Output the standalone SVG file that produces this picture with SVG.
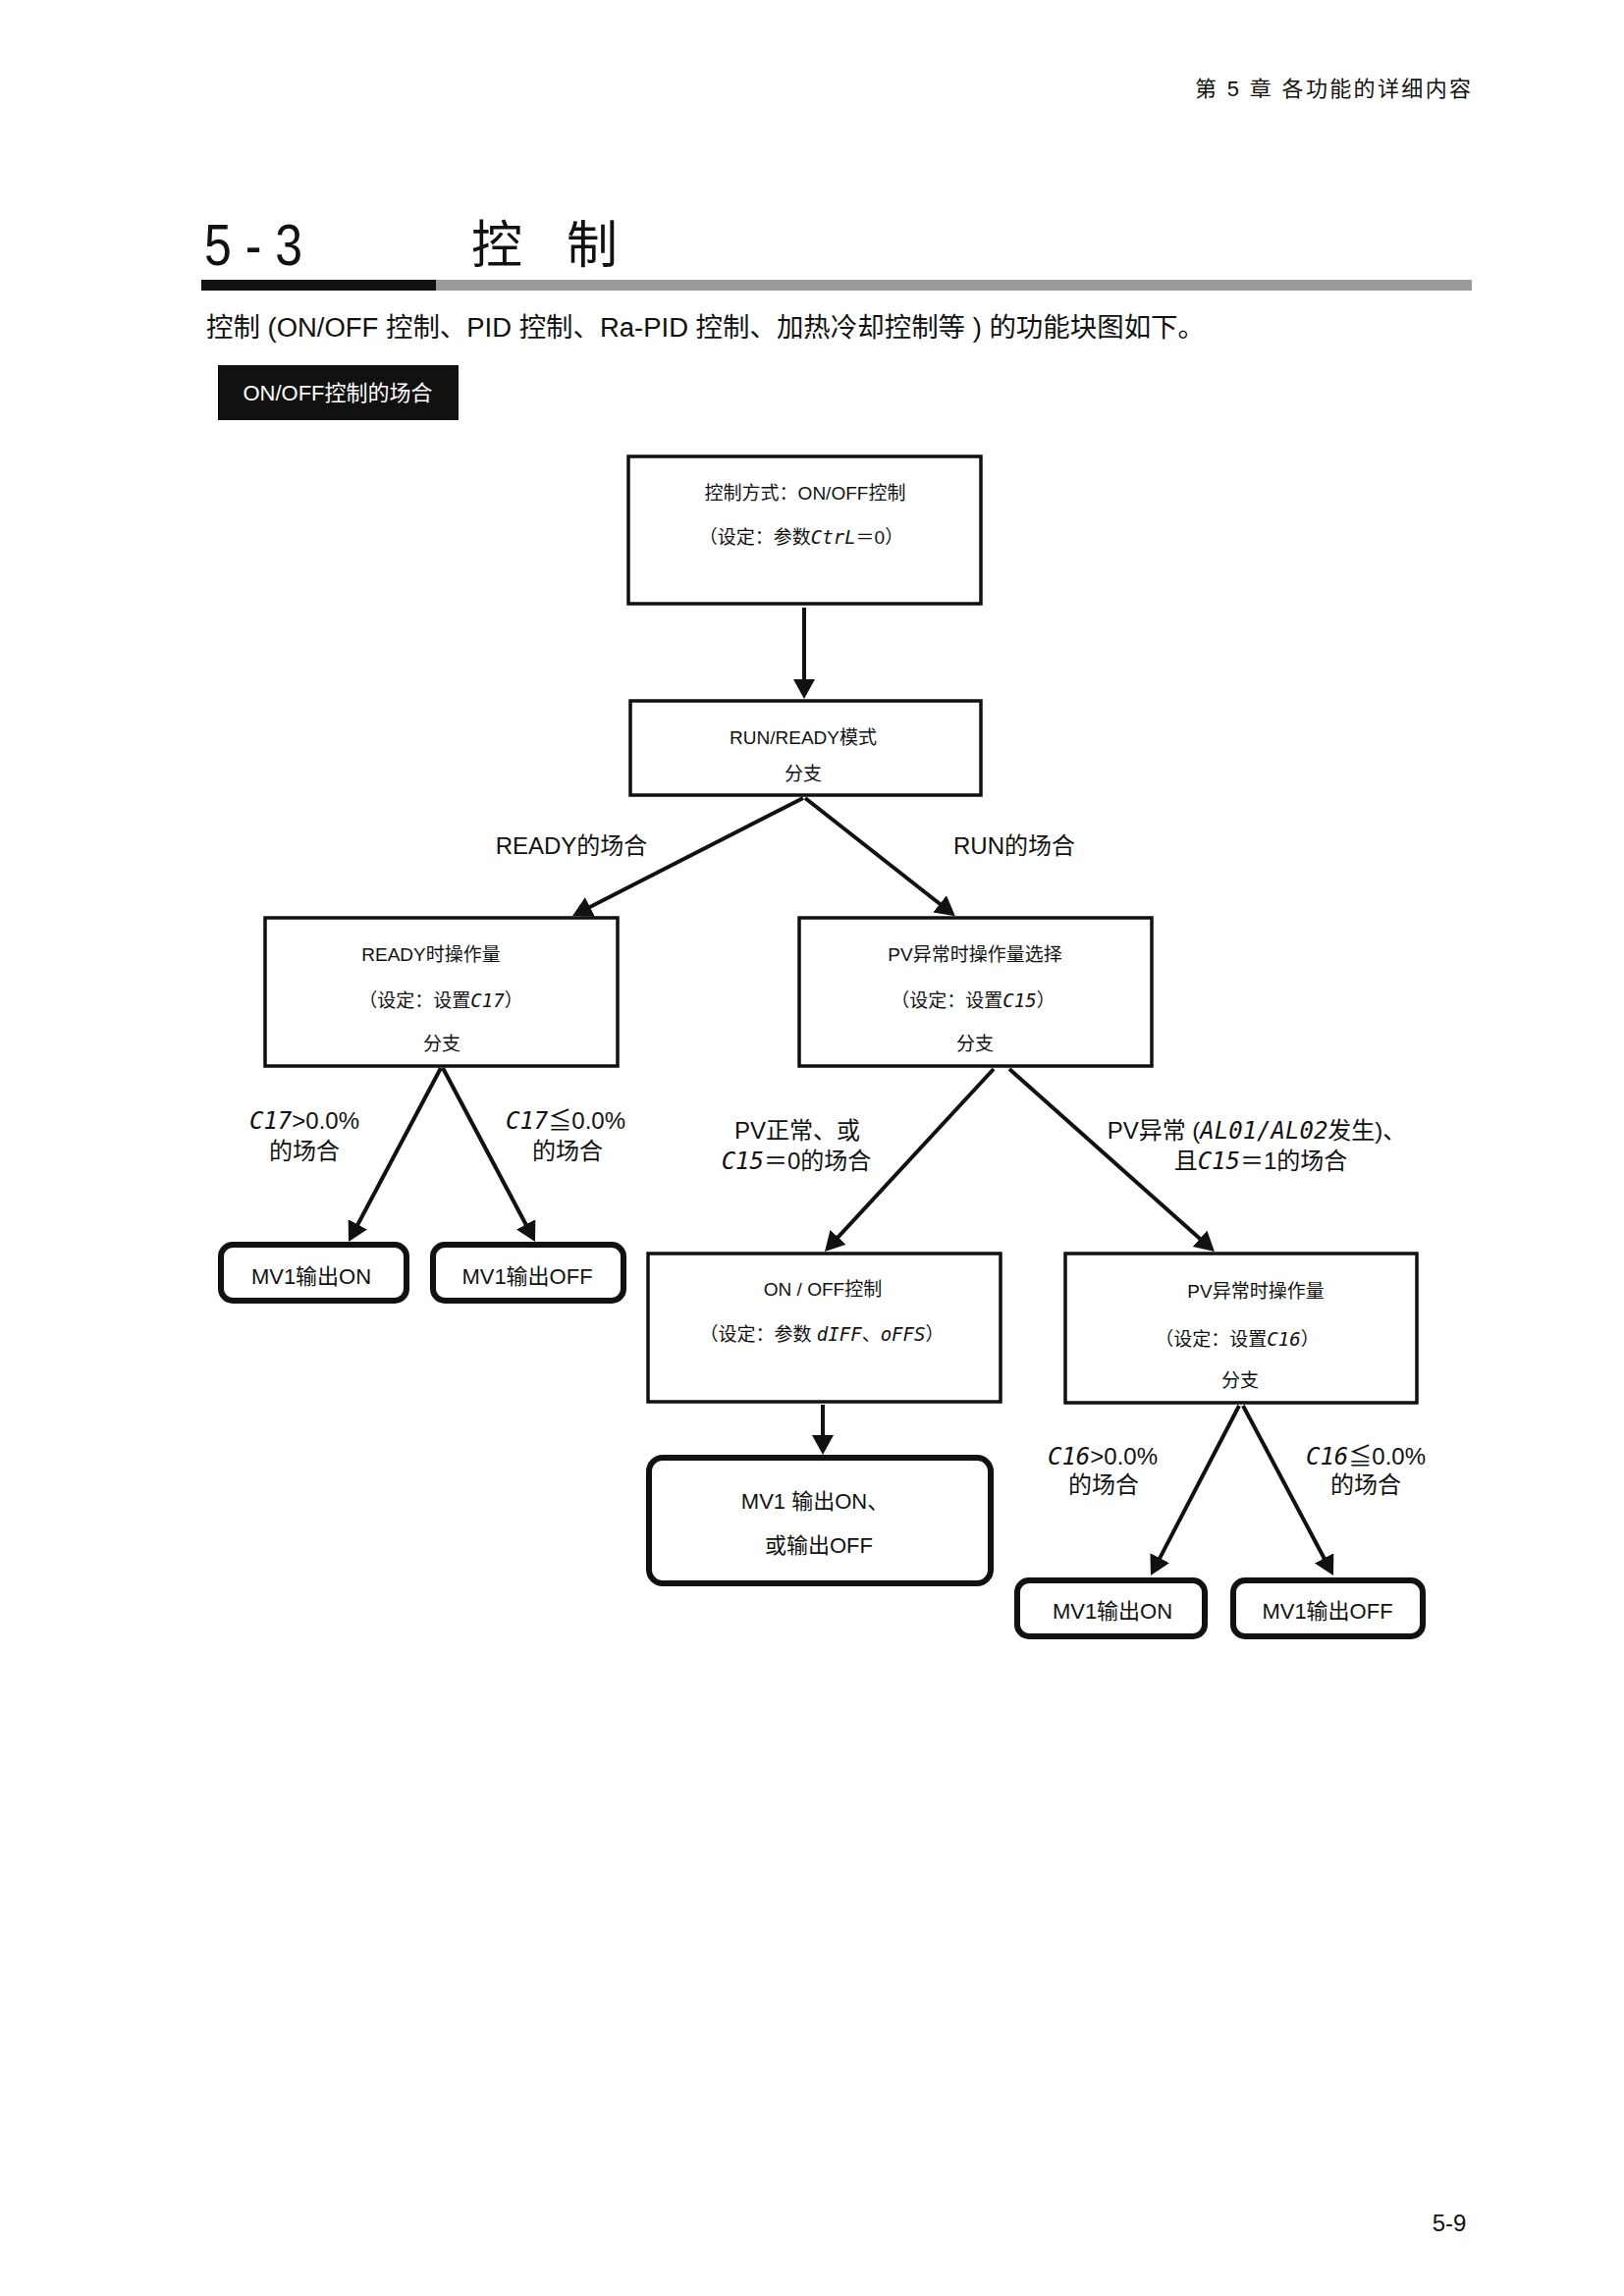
<svg xmlns="http://www.w3.org/2000/svg" width="1654" height="2339" viewBox="0 0 1654 2339">
<style>
text{font-family:"Liberation Sans","Noto Sans CJK SC",sans-serif;fill:#111}
.box{fill:#fff;stroke:#111;stroke-width:3.5}
.rbox{fill:#fff;stroke:#111;stroke-width:6}
.bt{font-size:19px;text-anchor:middle}
.lb{font-size:24px;text-anchor:middle}
.mv{font-size:22px;text-anchor:middle}
.seg{font-style:italic;font-family:"DejaVu Sans Mono","Liberation Mono",monospace}
.cn line{stroke:#111;stroke-width:4;marker-end:url(#ah)}
</style>
<defs>
<marker id="ah" viewBox="0 0 20 22" refX="10" refY="11" markerWidth="20" markerHeight="22" markerUnits="userSpaceOnUse" orient="auto">
<path d="M0,0 L20,11 L0,22 z" fill="#111"/>
</marker>
</defs>
<rect width="1654" height="2339" fill="#fff"/>
<g id="header">
<text x="1217" y="98" style="font-size:22px" textLength="281" lengthAdjust="spacing">第 5 章 各功能的详细内容</text>
<text x="208" y="270" style="font-size:60px" textLength="100" lengthAdjust="spacingAndGlyphs">5 - 3</text>
<text x="480" y="268" style="font-size:52px">控<tspan x="577">制</tspan></text>
<rect x="205" y="285" width="239" height="11" fill="#111"/>
<rect x="444" y="285" width="1055" height="11" fill="#9a9a9a"/>
<text x="210" y="343" style="font-size:27px" textLength="1017" lengthAdjust="spacingAndGlyphs">控制 (ON/OFF 控制、PID 控制、Ra-PID 控制、加热冷却控制等 ) 的功能块图如下。</text>
<rect x="222" y="372" width="245" height="56" fill="#111"/>
<text x="344" y="408" style="font-size:22px;fill:#fff;text-anchor:middle">ON/OFF控制的场合</text>
<text x="1476" y="2273" style="font-size:24px;text-anchor:middle">5-9</text>
</g>
<g class="cn" id="connectors">
<line x1="819" y1="619" x2="819" y2="702"/>
<line x1="818" y1="813" x2="592" y2="928.5"/>
<line x1="820" y1="813" x2="965" y2="927"/>
<line x1="449" y1="1088" x2="359.7" y2="1256.2"/>
<line x1="451" y1="1088" x2="540.3" y2="1256.2"/>
<line x1="1012" y1="1089" x2="846.8" y2="1267.7"/>
<line x1="1028" y1="1089" x2="1229.5" y2="1268.4"/>
<line x1="838" y1="1431" x2="838" y2="1472"/>
<line x1="1262" y1="1432" x2="1176.6" y2="1596.1"/>
<line x1="1266" y1="1432" x2="1353.3" y2="1596.2"/>
</g>
<g id="labels">
<text class="lb" x="582" y="870">READY的场合</text>
<text class="lb" x="1033" y="870">RUN的场合</text>
<text class="lb" x="310" y="1150"><tspan class="seg">C17</tspan>&gt;0.0%</text>
<text class="lb" x="310" y="1181">的场合</text>
<text class="lb" x="576" y="1150"><tspan class="seg">C17</tspan>≦0.0%</text>
<text class="lb" x="578" y="1181">的场合</text>
<text class="lb" x="812" y="1160">PV正常、或</text>
<text class="lb" x="811" y="1191"><tspan class="seg">C15</tspan>＝0的场合</text>
<text class="lb" x="1280" y="1160">PV异常 (<tspan class="seg">AL01/AL02</tspan>发生)、</text>
<text class="lb" x="1284" y="1191">且<tspan class="seg">C15</tspan>＝1的场合</text>
<text class="lb" x="1123" y="1492"><tspan class="seg">C16</tspan>&gt;0.0%</text>
<text class="lb" x="1124" y="1521">的场合</text>
<text class="lb" x="1391" y="1492"><tspan class="seg">C16</tspan>≦0.0%</text>
<text class="lb" x="1391" y="1521">的场合</text>
</g>
<g id="n-mode">
<rect class="box" x="640" y="465" width="359" height="150"/>
<text class="bt" x="820" y="509">控制方式：ON/OFF控制</text>
<text class="bt" x="816" y="554">（设定：参数<tspan class="seg">CtrL</tspan>＝0）</text>
</g>
<g id="n-runready">
<rect class="box" x="642" y="714" width="357" height="96"/>
<text class="bt" x="818" y="758">RUN/READY模式</text>
<text class="bt" x="818" y="795">分支</text>
</g>
<g id="n-readymv">
<rect class="box" x="270" y="935" width="359" height="151"/>
<text class="bt" x="439" y="979">READY时操作量</text>
<text class="bt" x="449" y="1026">（设定：设置<tspan class="seg">C17</tspan>）</text>
<text class="bt" x="450" y="1070">分支</text>
</g>
<g id="n-pvsel">
<rect class="box" x="814" y="935" width="359" height="151"/>
<text class="bt" x="993" y="979">PV异常时操作量选择</text>
<text class="bt" x="991" y="1026">（设定：设置<tspan class="seg">C15</tspan>）</text>
<text class="bt" x="993" y="1070">分支</text>
</g>
<g id="n-mv1on-a">
<rect class="rbox" x="225" y="1268" width="189" height="57" rx="12"/>
<text class="mv" x="317" y="1308">MV1输出ON</text>
</g>
<g id="n-mv1off-a">
<rect class="rbox" x="441" y="1268" width="194" height="57" rx="12"/>
<text class="mv" x="537" y="1308">MV1输出OFF</text>
</g>
<g id="n-onoff">
<rect class="box" x="660" y="1277" width="359" height="151"/>
<text class="bt" x="838" y="1320">ON / OFF控制</text>
<text class="bt" x="837" y="1366">（设定：参数 <tspan class="seg">dIFF</tspan>、<tspan class="seg">oFFS</tspan>）</text>
</g>
<g id="n-pvmv">
<rect class="box" x="1085" y="1277" width="358" height="152"/>
<text class="bt" x="1279" y="1322">PV异常时操作量</text>
<text class="bt" x="1260" y="1371">（设定：设置<tspan class="seg">C16</tspan>）</text>
<text class="bt" x="1263" y="1413">分支</text>
</g>
<g id="n-mv1onoff">
<rect class="rbox" x="661" y="1485" width="348" height="128" rx="14"/>
<text class="mv" x="830" y="1537">MV1 输出ON、</text>
<text class="mv" x="834" y="1582">或输出OFF</text>
</g>
<g id="n-mv1on-b">
<rect class="rbox" x="1036" y="1610" width="191" height="57" rx="12"/>
<text class="mv" x="1133" y="1649">MV1输出ON</text>
</g>
<g id="n-mv1off-b">
<rect class="rbox" x="1256" y="1610" width="193" height="57" rx="12"/>
<text class="mv" x="1352" y="1649">MV1输出OFF</text>
</g>
</svg>
